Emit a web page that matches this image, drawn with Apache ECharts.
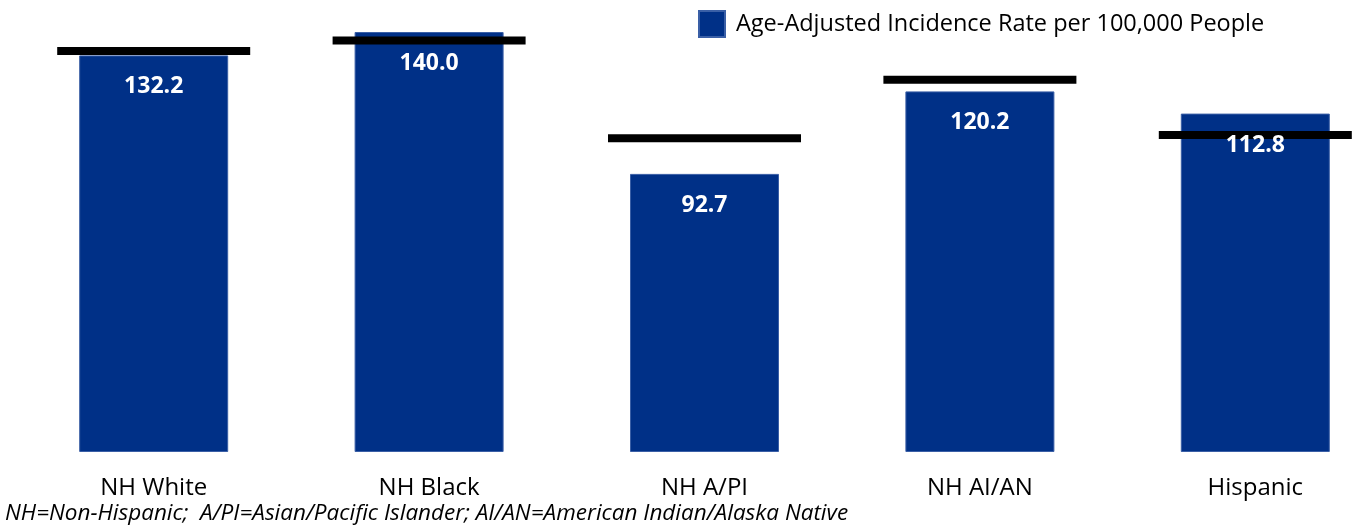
<!DOCTYPE html>
<html><head><meta charset="utf-8">
<script src="https://cdn.jsdelivr.net/npm/echarts@6/dist/echarts.min.js"></script>
<style>html,body{margin:0;padding:0;background:#fff}#c{width:1353px;height:525px}</style>
</head><body><div id="c"></div>
<script>
const categories = ['NH White', 'NH Black', 'NH A/PI', 'NH AI/AN', 'Hispanic'];
const rates = [132.2, 140.0, 92.7, 120.2, 112.8];
const comparison = [133.7, 137.2, 104.6, 124.1, 105.7];
const seriesName = 'Age-Adjusted Incidence Rate per 100,000 People';
const footnote = 'NH=Non-Hispanic;  A/PI=Asian/Pacific Islander; AI/AN=American Indian/Alaska Native';

const FONT = '"Open Sans", sans-serif';
const chart = echarts.init(document.getElementById('c'));
chart.setOption({
  animation: false,
  grid: { left: 16, right: -40, top: 2, bottom: 73, containLabel: false, outerBoundsMode: 'none' },
  legend: {
    data: [seriesName], left: 698, top: 10, padding: 0, icon: 'rect', itemWidth: 26, itemHeight: 26, itemGap: 10,
    textStyle: { fontFamily: FONT, fontSize: 23.5, color: '#000', padding: [0, 0, 0, 6] }
  },
  xAxis: {
    type: 'category', data: categories,
    axisLine: { show: false }, axisTick: { show: false },
    axisLabel: { color: '#000', fontFamily: FONT, fontSize: 24, margin: 24 }
  },
  yAxis: { type: 'value', min: 0, max: 150, show: false, splitLine: { show: false } },
  series: [
    {
      name: seriesName, type: 'bar', data: rates, barWidth: 149,
      itemStyle: { color: '#003087', borderColor: '#3a5fa6', borderWidth: 1 },
      z: 2
    },
    {
      name: 'marker', type: 'scatter', data: comparison, symbol: 'rect', symbolSize: [193, 8],
      itemStyle: { color: '#000', opacity: 1 }, z: 3, silent: true
    },
    {
      name: 'labels', type: 'bar', data: rates, barWidth: 149, barGap: '-100%',
      itemStyle: { color: 'rgba(0,0,0,0)' },
      label: {
        show: true, position: 'insideTop', distance: 20, color: '#fff',
        fontFamily: FONT, fontWeight: 'bold', fontSize: 23,
        formatter: p => p.value.toFixed(1)
      },
      z: 4, silent: true
    }
  ],
  graphic: [{
    type: 'text', left: 5, top: 502,
    style: { text: footnote, fontFamily: FONT, fontStyle: 'italic', fontSize: 22.5, fill: '#000' }
  }]
});
</script></body></html>
